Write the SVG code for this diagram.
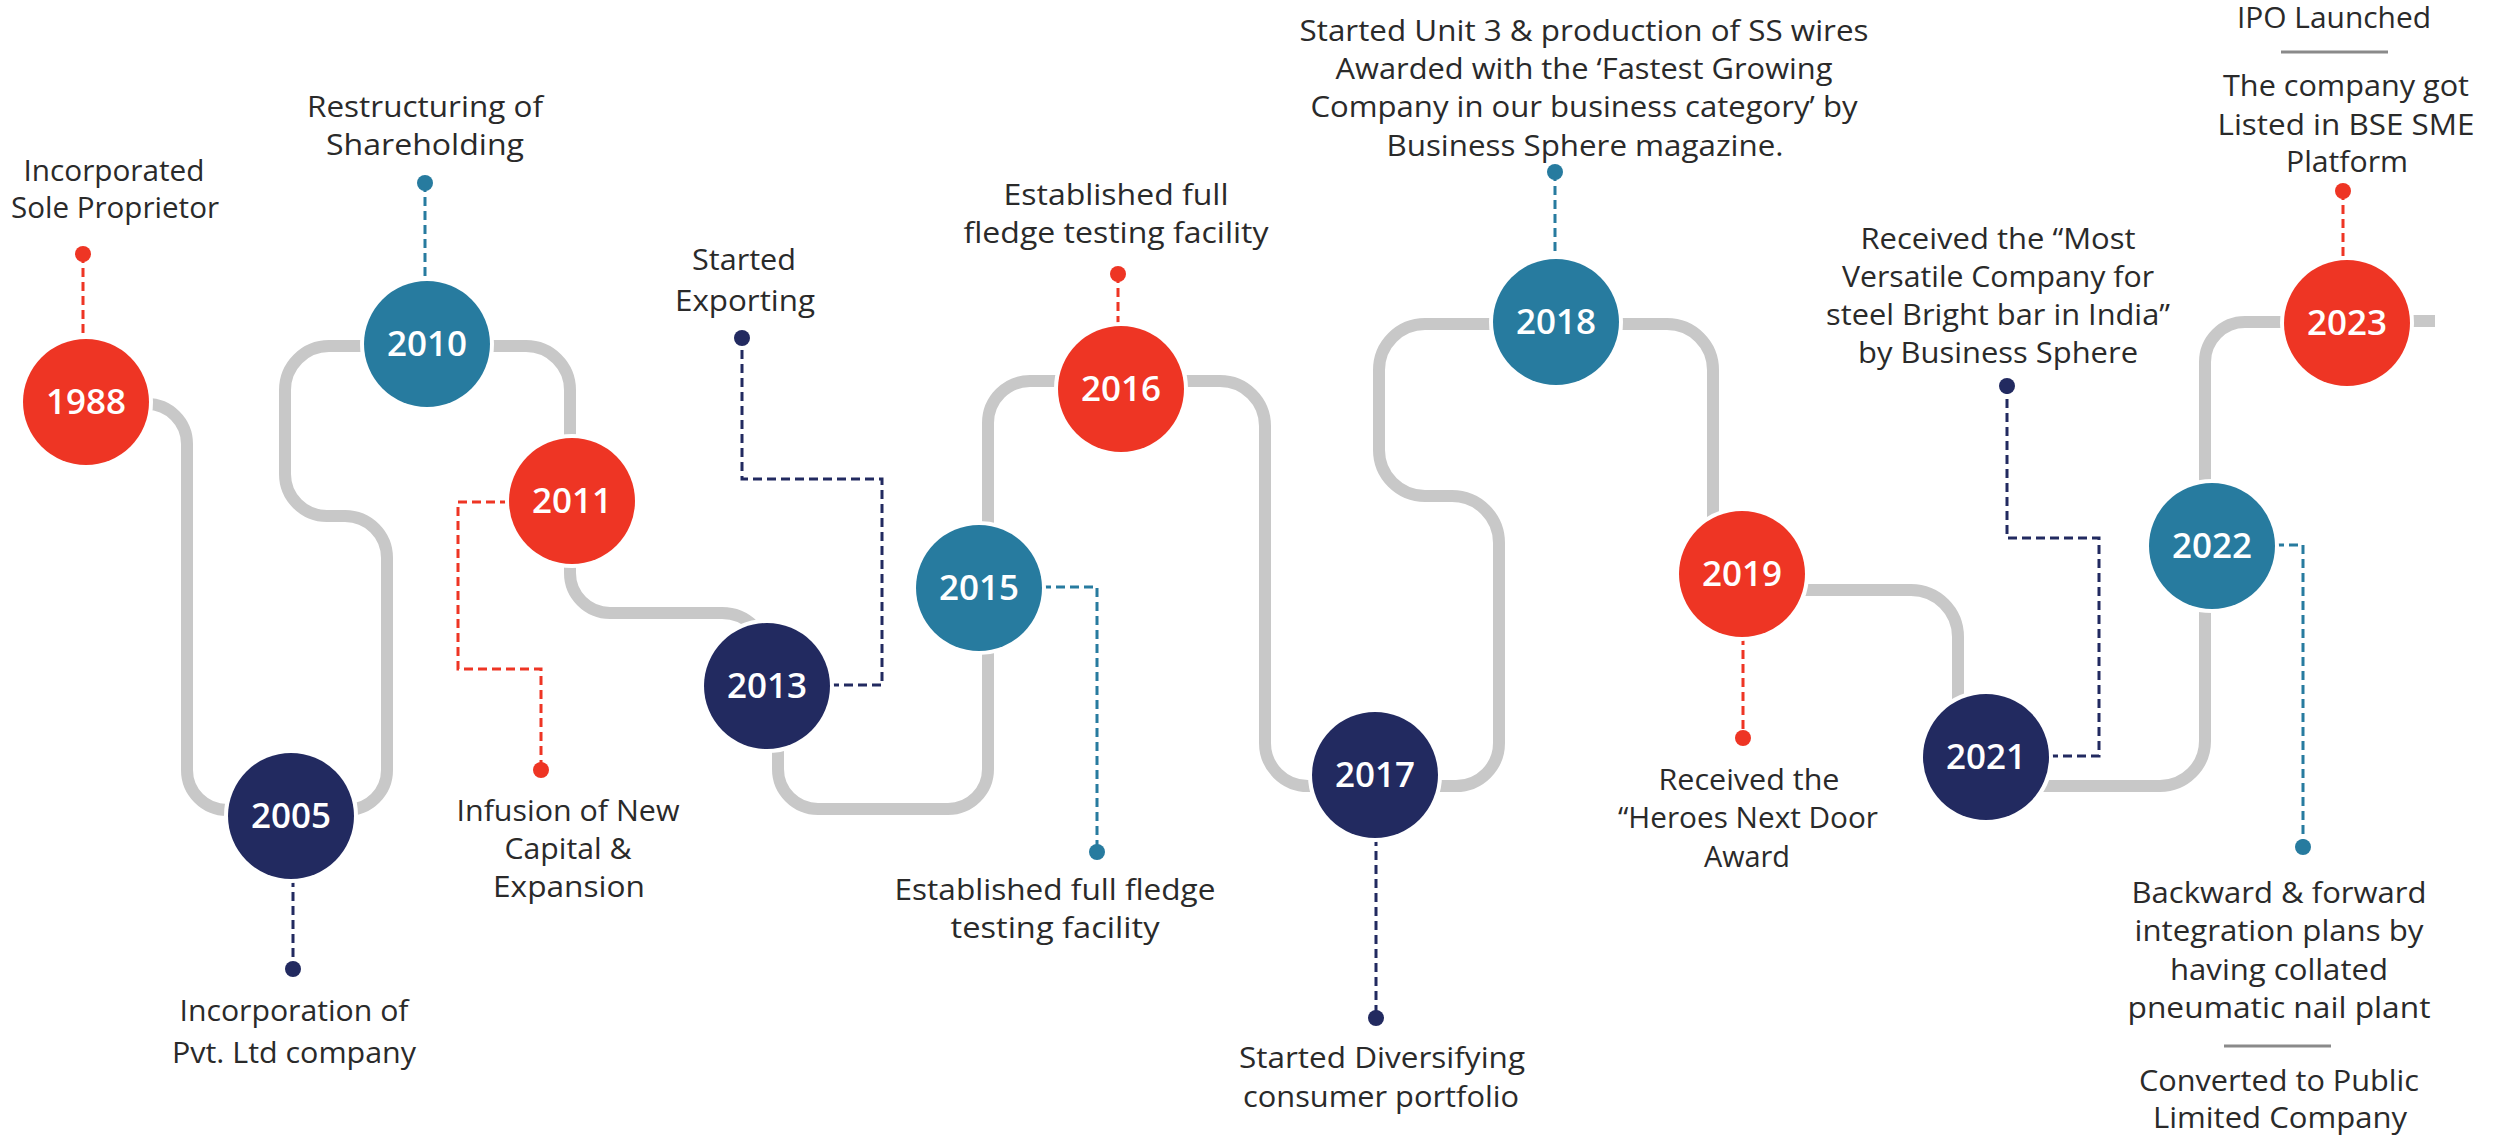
<svg xmlns="http://www.w3.org/2000/svg" width="2496" height="1137" viewBox="0 0 2496 1137">
<style>
.track{fill:none;stroke:#C8C8C8;stroke-width:12;stroke-linecap:butt;stroke-linejoin:round}
.lead{fill:none;stroke-width:3;stroke-dasharray:9 5}
.lr{stroke:#EE3524}.lt{stroke:#277B9F}.ln{stroke:#222A60}
.red{fill:#EE3524}.teal{fill:#277B9F}.navy{fill:#222A60}
.node{stroke:#FFFFFF;stroke-width:8;paint-order:stroke}
.yr{font-family:"Open Sans","Liberation Sans",sans-serif;font-weight:600;font-size:35px;fill:#FFFFFF;text-anchor:middle}
.lbl{font-family:"Open Sans","Liberation Sans",sans-serif;font-size:29px;fill:#2A2A2A;text-anchor:middle}
.div{stroke:#8A8A8A;stroke-width:3}
</style>
<rect width="2496" height="1137" fill="#FFFFFF"/>
<g id="connectors">
<path class="track" d="M 86 404 H 147 A 40 40 0 0 1 187 444 V 770 A 40 40 0 0 0 227 810 H 291
M 291 810 H 347 A 40 40 0 0 0 387 770 V 558 A 42 42 0 0 0 345 516 H 327 A 42 42 0 0 1 285 474 V 390 A 44 44 0 0 1 329 346 H 427
M 427 346 H 526 A 44 44 0 0 1 570 390 V 501
M 570 501 V 573 A 40 40 0 0 0 610 613 H 722 A 45 45 0 0 1 767 658 V 686
M 778 686 V 769 A 40 40 0 0 0 818 809 H 948 A 40 40 0 0 0 988 769 V 588
M 988 588 V 423 A 42 42 0 0 1 1030 381 H 1121
M 1121 381 H 1220 A 45 45 0 0 1 1265 426 V 743 A 43 43 0 0 0 1308 786 H 1375
M 1375 786 H 1456 A 43 43 0 0 0 1499 743 V 543 A 47 47 0 0 0 1452 496 H 1425 A 46 46 0 0 1 1379 450 V 370 A 46 46 0 0 1 1425 324 H 1556
M 1556 324 H 1667 A 46 46 0 0 1 1713 370 V 574
M 1742 590 H 1911 A 47 47 0 0 1 1958 637 V 757
M 1986 786 H 2160 A 45 45 0 0 0 2205 741 V 546
M 2205 546 V 362 A 40 40 0 0 1 2245 322 H 2347
M 2347 321 H 2435"/>
<path class="lead lr" d="M 83 254 V 340"/>
<path class="lead lt" d="M 425 183 V 282"/>
<path class="lead ln" d="M 293 878 V 969"/>
<path class="lead lr" d="M 509 502 H 458 V 669 H 541 V 770"/>
<path class="lead ln" d="M 830 685 H 882 V 479 H 742 V 338"/>
<path class="lead lt" d="M 1042 587 H 1097 V 852"/>
<path class="lead lr" d="M 1118 274 V 327"/>
<path class="lead ln" d="M 1376 837 V 1018"/>
<path class="lead lt" d="M 1555 172 V 260"/>
<path class="lead lr" d="M 1743 636 V 738"/>
<path class="lead ln" d="M 2049 756 H 2099 V 538 H 2007 V 386"/>
<path class="lead lt" d="M 2275 545 H 2303 V 847"/>
<path class="lead lr" d="M 2343 191 V 261"/>
</g>
<g id="node-1988">
<circle class="node red" cx="86" cy="402" r="63"/>
<text class="yr" x="86" y="414">1988</text>
<circle class="red" cx="83" cy="254" r="8"/>
<text class="lbl" x="114" y="181" textLength="181" lengthAdjust="spacingAndGlyphs">Incorporated</text>
<text class="lbl" x="115" y="218" textLength="208" lengthAdjust="spacingAndGlyphs">Sole Proprietor</text>
</g>
<g id="node-2005">
<circle class="node navy" cx="291" cy="816" r="63"/>
<text class="yr" x="291" y="828">2005</text>
<circle class="navy" cx="293" cy="969" r="8"/>
<text class="lbl" x="294" y="1021" textLength="229" lengthAdjust="spacingAndGlyphs">Incorporation of</text>
<text class="lbl" x="294" y="1063" textLength="244" lengthAdjust="spacingAndGlyphs">Pvt. Ltd company</text>
</g>
<g id="node-2010">
<circle class="node teal" cx="427" cy="344" r="63"/>
<text class="yr" x="427" y="356">2010</text>
<circle class="teal" cx="425" cy="183" r="8"/>
<text class="lbl" x="425" y="117" textLength="236" lengthAdjust="spacingAndGlyphs">Restructuring of</text>
<text class="lbl" x="425" y="155" textLength="198" lengthAdjust="spacingAndGlyphs">Shareholding</text>
</g>
<g id="node-2011">
<circle class="node red" cx="572" cy="501" r="63"/>
<text class="yr" x="572" y="513">2011</text>
<circle class="red" cx="541" cy="770" r="8"/>
<text class="lbl" x="568" y="821" textLength="223" lengthAdjust="spacingAndGlyphs">Infusion of New</text>
<text class="lbl" x="568" y="859" textLength="127" lengthAdjust="spacingAndGlyphs">Capital &amp;</text>
<text class="lbl" x="569" y="897" textLength="152" lengthAdjust="spacingAndGlyphs">Expansion</text>
</g>
<g id="node-2013">
<circle class="node navy" cx="767" cy="686" r="63"/>
<text class="yr" x="767" y="698">2013</text>
<circle class="navy" cx="742" cy="338" r="8"/>
<text class="lbl" x="744" y="270" textLength="104" lengthAdjust="spacingAndGlyphs">Started</text>
<text class="lbl" x="745" y="311" textLength="140" lengthAdjust="spacingAndGlyphs">Exporting</text>
</g>
<g id="node-2015">
<circle class="node teal" cx="979" cy="588" r="63"/>
<text class="yr" x="979" y="600">2015</text>
<circle class="teal" cx="1097" cy="852" r="8"/>
<text class="lbl" x="1055" y="900" textLength="321" lengthAdjust="spacingAndGlyphs">Established full fledge</text>
<text class="lbl" x="1055" y="938" textLength="209" lengthAdjust="spacingAndGlyphs">testing facility</text>
</g>
<g id="node-2016">
<circle class="node red" cx="1121" cy="389" r="63"/>
<text class="yr" x="1121" y="401">2016</text>
<circle class="red" cx="1118" cy="274" r="8"/>
<text class="lbl" x="1116" y="205" textLength="225" lengthAdjust="spacingAndGlyphs">Established full</text>
<text class="lbl" x="1116" y="243" textLength="305" lengthAdjust="spacingAndGlyphs">fledge testing facility</text>
</g>
<g id="node-2017">
<circle class="node navy" cx="1375" cy="775" r="63"/>
<text class="yr" x="1375" y="787">2017</text>
<circle class="navy" cx="1376" cy="1018" r="8"/>
<text class="lbl" x="1382" y="1068" textLength="286" lengthAdjust="spacingAndGlyphs">Started Diversifying</text>
<text class="lbl" x="1381" y="1107" textLength="276" lengthAdjust="spacingAndGlyphs">consumer portfolio</text>
</g>
<g id="node-2018">
<circle class="node teal" cx="1556" cy="322" r="63"/>
<text class="yr" x="1556" y="334">2018</text>
<circle class="teal" cx="1555" cy="172" r="8"/>
<text class="lbl" x="1584" y="41" textLength="569" lengthAdjust="spacingAndGlyphs">Started Unit 3 &amp; production of SS wires</text>
<text class="lbl" x="1584" y="79" textLength="497" lengthAdjust="spacingAndGlyphs">Awarded with the ‘Fastest Growing</text>
<text class="lbl" x="1584" y="117" textLength="547" lengthAdjust="spacingAndGlyphs">Company in our business category’ by</text>
<text class="lbl" x="1585" y="156" textLength="397" lengthAdjust="spacingAndGlyphs">Business Sphere magazine.</text>
</g>
<g id="node-2019">
<circle class="node red" cx="1742" cy="574" r="63"/>
<text class="yr" x="1742" y="586">2019</text>
<circle class="red" cx="1743" cy="738" r="8"/>
<text class="lbl" x="1749" y="790" textLength="181" lengthAdjust="spacingAndGlyphs">Received the</text>
<text class="lbl" x="1748" y="828" textLength="260" lengthAdjust="spacingAndGlyphs">“Heroes Next Door</text>
<text class="lbl" x="1747" y="867" textLength="86" lengthAdjust="spacingAndGlyphs">Award</text>
</g>
<g id="node-2021">
<circle class="node navy" cx="1986" cy="757" r="63"/>
<text class="yr" x="1986" y="769">2021</text>
<circle class="navy" cx="2007" cy="386" r="8"/>
<text class="lbl" x="1998" y="249" textLength="275" lengthAdjust="spacingAndGlyphs">Received the “Most</text>
<text class="lbl" x="1998" y="287" textLength="312" lengthAdjust="spacingAndGlyphs">Versatile Company for</text>
<text class="lbl" x="1998" y="325" textLength="344" lengthAdjust="spacingAndGlyphs">steel Bright bar in India”</text>
<text class="lbl" x="1998" y="363" textLength="280" lengthAdjust="spacingAndGlyphs">by Business Sphere</text>
</g>
<g id="node-2022">
<circle class="node teal" cx="2212" cy="546" r="63"/>
<text class="yr" x="2212" y="558">2022</text>
<circle class="teal" cx="2303" cy="847" r="8"/>
<text class="lbl" x="2279" y="903" textLength="295" lengthAdjust="spacingAndGlyphs">Backward &amp; forward</text>
<text class="lbl" x="2279" y="941" textLength="289" lengthAdjust="spacingAndGlyphs">integration plans by</text>
<text class="lbl" x="2279" y="980" textLength="218" lengthAdjust="spacingAndGlyphs">having collated</text>
<text class="lbl" x="2279" y="1018" textLength="303" lengthAdjust="spacingAndGlyphs">pneumatic nail plant</text>
<line class="div" x1="2224" y1="1046" x2="2331" y2="1046"/>
<text class="lbl" x="2279" y="1091" textLength="280" lengthAdjust="spacingAndGlyphs">Converted to Public</text>
<text class="lbl" x="2280" y="1128" textLength="254" lengthAdjust="spacingAndGlyphs">Limited Company</text>
</g>
<g id="node-2023">
<circle class="node red" cx="2347" cy="323" r="63"/>
<text class="yr" x="2347" y="335">2023</text>
<circle class="red" cx="2343" cy="191" r="8"/>
<text class="lbl" x="2334" y="28" textLength="194" lengthAdjust="spacingAndGlyphs">IPO Launched</text>
<line class="div" x1="2281" y1="52" x2="2388" y2="52"/>
<text class="lbl" x="2346" y="96" textLength="246" lengthAdjust="spacingAndGlyphs">The company got</text>
<text class="lbl" x="2346" y="135" textLength="257" lengthAdjust="spacingAndGlyphs">Listed in BSE SME</text>
<text class="lbl" x="2347" y="172" textLength="122" lengthAdjust="spacingAndGlyphs">Platform</text>
</g>
</svg>
